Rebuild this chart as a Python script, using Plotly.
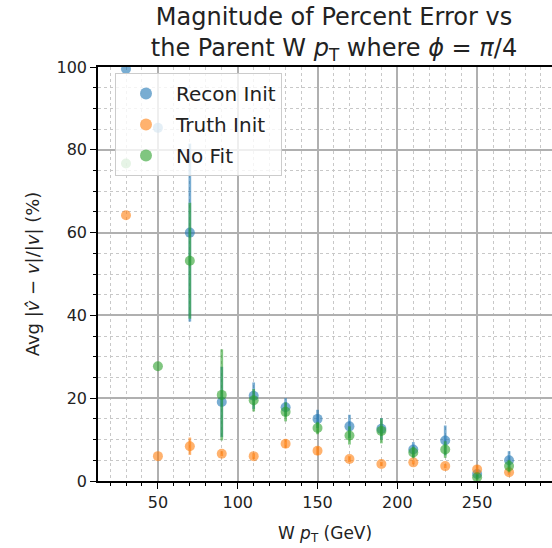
import plotly.graph_objects as go

# W transverse momentum bins (GeV)
w_pt = [30, 50, 70, 90, 110, 130, 150, 170, 190, 210, 230, 250, 270]

# Average magnitude of percent error and its spread for each method
recon_init = [99.5, 85.3, 60.0, 19.1, 20.6, 17.8, 15.0, 13.2, 12.6, 7.6, 9.8, 1.7, 5.0]
recon_err = [0.0, 0.0, 21.5, 8.5, 3.2, 2.2, 2.2, 2.8, 2.6, 1.8, 3.6, 0.8, 2.2]

truth_init = [64.2, 6.0, 8.4, 6.6, 6.0, 9.0, 7.3, 5.3, 4.1, 4.5, 3.6, 2.8, 2.1]
truth_err = [0.0, 0.0, 2.1, 0.6, 0.7, 1.0, 1.0, 0.7, 0.5, 0.5, 0.5, 1.0, 0.6]

no_fit = [76.7, 27.7, 53.2, 20.8, 19.5, 16.7, 12.8, 11.0, 12.1, 6.9, 7.6, 0.9, 3.6]
no_fit_err = [0.0, 0.0, 14.0, 11.0, 2.7, 2.3, 1.5, 2.2, 3.0, 1.4, 2.0, 0.6, 1.5]

series = [
    ("Recon Init", recon_init, recon_err, (31, 119, 180)),
    ("Truth Init", truth_init, truth_err, (255, 127, 14)),
    ("No Fit", no_fit, no_fit_err, (44, 160, 44)),
]

ALPHA = 0.6
FONT = "DejaVu Sans"
TEXT = "#222222"

fig = go.Figure()
for i, (name, vals, errs, (r, g, b)) in enumerate(series):
    col = f"rgba({r},{g},{b},{ALPHA})"
    fig.add_trace(go.Scatter(
        x=w_pt, y=vals, name=name, mode="markers",
        legendgroup=f"g{i}",
        marker=dict(size=10, color=col, line=dict(width=0)),
        error_y=dict(type="data", array=errs, visible=True,
                     thickness=2.7, width=0, color=col),
    ))

axis_common = dict(
    showline=True, linecolor="black", linewidth=1.5,
    ticks="outside", ticklen=6, tickwidth=1.3, tickcolor="black",
    showgrid=True, gridcolor="#b0b0b0", gridwidth=1.6,
    zeroline=False,
    tickfont=dict(family=FONT, size=16, color=TEXT),
)
minor_common = dict(ticks="outside", ticklen=3.5, tickwidth=1, tickcolor="black",
                    showgrid=True, gridcolor="#c8c8c8", gridwidth=1.2, griddash="dot")

fig.update_xaxes(
    **axis_common,
    range=[12.46, 296.9], mirror=True,
    tickmode="array", tickvals=[50, 100, 150, 200, 250],
    minor=dict(tickmode="array",
               tickvals=[v for v in range(20, 300, 10) if v % 50 != 0],
               **minor_common),
    title=dict(text="W <i>p</i><sub>T</sub> (GeV)",
               font=dict(family=FONT, size=17, color=TEXT), standoff=16),
)
fig.update_yaxes(
    **axis_common,
    range=[0, 100], mirror=False,
    tickmode="array", tickvals=[0, 20, 40, 60, 80, 100],
    minor=dict(dtick=5, **minor_common),
    title=dict(text="Avg |<i>v̂</i> − <i>v</i>|/|<i>v</i>| (%)",
               font=dict(family=FONT, size=18, color=TEXT), standoff=12),
)

fig.update_layout(
    width=552, height=548,
    margin=dict(l=98, r=0, t=67, b=67),
    paper_bgcolor="white", plot_bgcolor="white",
    title=dict(
        text="Magnitude of Percent Error vs<br>the Parent W <i>p</i><sub>T</sub> where <i>ϕ</i> = <i>π</i>/4",
        x=334 / 552, xanchor="center", xref="container",
        y=1 - 25 / 548, yanchor="top", yref="container",
        font=dict(family=FONT, size=24, color=TEXT),
    ),
    legend=dict(
        x=17 / 454, y=1 - 6 / 414, xanchor="left", yanchor="top",
        bgcolor="rgba(255,255,255,0.8)", bordercolor="#cccccc", borderwidth=1,
        font=dict(family=FONT, size=20, color=TEXT),
        traceorder="grouped", tracegroupgap=2, itemsizing="constant", itemwidth=50,
    ),
    showlegend=True,
)

fig.write_html("out.html")
